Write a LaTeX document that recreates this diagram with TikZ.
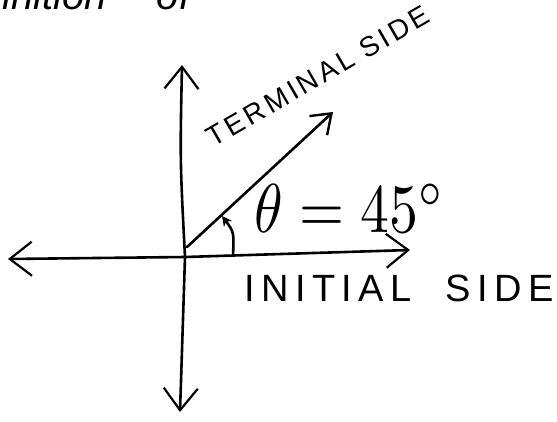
\documentclass[tikz,border=0pt]{standalone}
\usepackage{fontspec}
\setmainfont{Liberation Sans}
\usetikzlibrary{arrows.meta}
\tikzset{
  axis/.style={line width=2.6pt, line cap=round, -{Straight Barb[length=22pt,width=34pt,line width=2.2pt]}},
  ray/.style={line width=2.6pt, line cap=round, -{Straight Barb[length=18pt,width=26pt,line width=2.4pt]}},
  hand/.style={inner sep=0pt}
}
\begin{document}
\begin{tikzpicture}[x=1pt,y=-1pt]
\useasboundingbox (0,0) rectangle (557,421);
\clip (0,0) rectangle (557,421);
% cropped heading
\node[hand, anchor=base west] (head) at (-60,9) {\fontsize{40}{44}\selectfont\itshape Definition\hspace{50pt}of};
% named points
\coordinate (O) at (185,257);
\coordinate (L) at (8,259);
\coordinate (R) at (410,250);
\coordinate (U) at (182,65);
\coordinate (D) at (180,412);
\coordinate (S) at (187,247);
\coordinate (T) at (333,112);
\coordinate (A0) at (233,256);
\coordinate (A1) at (222,216);
% axes
\draw[axis] (O) -- (L);
\draw[axis] (O) -- (R);
\draw[axis] (O) .. controls (180,160) .. (U);
\draw[axis] (O) -- (D);
% terminal side
\draw[ray] (S) -- (T);
% angle arrow
\draw[line width=2.6pt, -{Stealth[length=10pt,width=10pt]}] (A0) .. controls (234,232) .. (A1);
% labels
\node[hand, rotate=30] (term) at (318,76) {\fontsize{28}{32}\selectfont\addfontfeatures{LetterSpace=12}TERMINAL SIDE};
\node[hand] (theta) at (350,208) {\resizebox{190pt}{48pt}{$\theta = 45^{\circ}$}};
\node[hand] (init) at (399,288) {\fontsize{38}{42}\selectfont\addfontfeatures{LetterSpace=17}INITIAL\ \ SIDE};
\end{tikzpicture}
\end{document}
